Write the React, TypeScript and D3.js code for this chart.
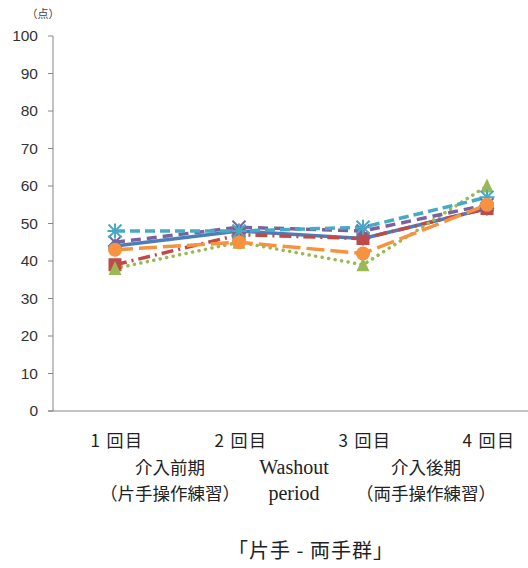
import React from "react";
import * as d3 from "d3";

const categories = ["1 回目", "2 回目", "3 回目", "4 回目"];
const yTicks = [0, 10, 20, 30, 40, 50, 60, 70, 80, 90, 100];

const seriesBlue = [44, 48, 46, 54];
const seriesRed = [39, 47, 46, 54];
const seriesGreen = [38, 45, 39, 60];
const seriesPurple = [45, 49, 48, 55];
const seriesCyan = [48, 48, 49, 57];
const seriesOrange = [43, 45, 42, 55];

const phaseLabels = [
  { lines: ["介入前期", "（片手操作練習）"], between: [0, 1], latin: false, shift: -7 },
  { lines: ["Washout", "period"], between: [1, 2], latin: true, shift: -7 },
  { lines: ["介入後期", "（両手操作練習）"], between: [2, 3], latin: false, shift: 1 },
];

const title = "「片手 - 両手群」";
const unitLabel = "（点）";

type Marker = "diamond" | "square" | "triangle" | "x" | "star" | "circle";

const series: { values: number[]; color: string; dash: string; cap: string; marker: Marker; width: number }[] = [
  { values: seriesBlue, color: "#4A7EBB", dash: "none", cap: "round", marker: "diamond", width: 3.5 },
  { values: seriesRed, color: "#BE4B48", dash: "12,5,2,5", cap: "butt", marker: "square", width: 3.5 },
  { values: seriesGreen, color: "#98B954", dash: "0.1,6.5", cap: "round", marker: "triangle", width: 3.5 },
  { values: seriesPurple, color: "#7D60A0", dash: "10,6", cap: "butt", marker: "x", width: 3.5 },
  { values: seriesCyan, color: "#46AAC5", dash: "10,5", cap: "butt", marker: "star", width: 3.5 },
  { values: seriesOrange, color: "#F69240", dash: "18,6", cap: "butt", marker: "circle", width: 3.5 },
];

const W = 528;
const H = 568;
const axisX = 53;
const plotRight = 549;
const yTop = 36;
const yBottom = 411;

function MarkerShape({ type, x, y, color }: { type: Marker; x: number; y: number; color: string }) {
  const s = 6.5;
  switch (type) {
    case "diamond":
      return <path d={`M${x},${y - s - 1}L${x + s + 1},${y}L${x},${y + s + 1}L${x - s - 1},${y}Z`} fill={color} />;
    case "square":
      return <rect x={x - s} y={y - s} width={2 * s} height={2 * s} fill={color} />;
    case "triangle":
      return <path d={`M${x},${y - s - 1}L${x + s},${y + s}L${x - s},${y + s}Z`} fill={color} />;
    case "x":
      return (
        <g stroke={color} strokeWidth={2}>
          <line x1={x - s} y1={y - s} x2={x + s} y2={y + s} />
          <line x1={x - s} y1={y + s} x2={x + s} y2={y - s} />
        </g>
      );
    case "star":
      return (
        <g stroke={color} strokeWidth={2}>
          <line x1={x} y1={y - s - 1} x2={x} y2={y + s + 1} />
          <line x1={x - s - 1} y1={y} x2={x + s + 1} y2={y} />
          <line x1={x - s} y1={y - s} x2={x + s} y2={y + s} />
          <line x1={x - s} y1={y + s} x2={x + s} y2={y - s} />
        </g>
      );
    case "circle":
    default:
      return <circle cx={x} cy={y} r={s + 0.5} fill={color} />;
  }
}

export default function App() {
  const x = d3.scaleBand<string>().domain(categories).range([axisX, plotRight]);
  const cx = (c: string) => (x(c) ?? 0) + x.bandwidth() / 2;
  const y = d3.scaleLinear().domain([0, 100]).range([yBottom, yTop]);

  const line = d3
    .line<number>()
    .x((_, i) => cx(categories[i]))
    .y((d) => y(d));

  const axisColor = "#868686";
  const cjk = "'Noto Sans CJK JP', sans-serif";

  return (
    <svg
      width={W}
      height={H}
      style={{ position: "absolute", left: 0, top: 0, background: "#fff" }}
      fontFamily="'Liberation Sans', Arial, sans-serif"
    >
      <text x={43} y={18} fontSize={11} textAnchor="middle" fontFamily={cjk} fill="#404040">
        {unitLabel}
      </text>

      {/* value axis */}
      <line x1={axisX} y1={yTop} x2={axisX} y2={yBottom} stroke={axisColor} strokeWidth={1} />
      {yTicks.map((t) => (
        <g key={t}>
          <line x1={axisX - 5} y1={y(t)} x2={axisX} y2={y(t)} stroke={axisColor} strokeWidth={1} />
          <text x={38} y={y(t)} dy="0.35em" textAnchor="end" fontSize={15.5} fill="#333">
            {t}
          </text>
        </g>
      ))}
      {/* category axis */}
      <line x1={axisX - 5} y1={yBottom} x2={W} y2={yBottom} stroke={axisColor} strokeWidth={1} />

      {series.map((s, i) => (
        <path
          key={`l${i}`}
          d={line(s.values) ?? ""}
          fill="none"
          stroke={s.color}
          strokeWidth={s.width}
          strokeDasharray={s.dash}
          strokeLinecap={s.cap as any}
          strokeLinejoin="round"
        />
      ))}
      {series.map((s, i) => (
        <g key={`m${i}`}>
          {s.values.map((v, j) => (
            <MarkerShape key={j} type={s.marker} x={cx(categories[j])} y={y(v)} color={s.color} />
          ))}
        </g>
      ))}

      {categories.map((c) => (
        <text
          key={c}
          x={cx(c) + 2}
          y={447}
          textAnchor="middle"
          fontSize={17}
          letterSpacing={1.5}
          fontFamily={cjk}
          fill="#222"
        >
          {c}
        </text>
      ))}

      {phaseLabels.map((p, i) => {
        const mx = (cx(categories[p.between[0]]) + cx(categories[p.between[1]])) / 2 + p.shift;
        return (
          <g key={i}>
            {p.lines.map((l, k) => (
              <text
                key={k}
                x={mx}
                y={474 + k * 26}
                textAnchor="middle"
                fontSize={p.latin ? 20 : 17.5}
                fontFamily={p.latin ? "'Liberation Serif', serif" : cjk}
                fill="#222"
              >
                {l}
              </text>
            ))}
          </g>
        );
      })}

      <text x={311} y={558} textAnchor="middle" fontSize={20} letterSpacing={1} fontFamily={cjk} fill="#222">
        {title}
      </text>
    </svg>
  );
}
